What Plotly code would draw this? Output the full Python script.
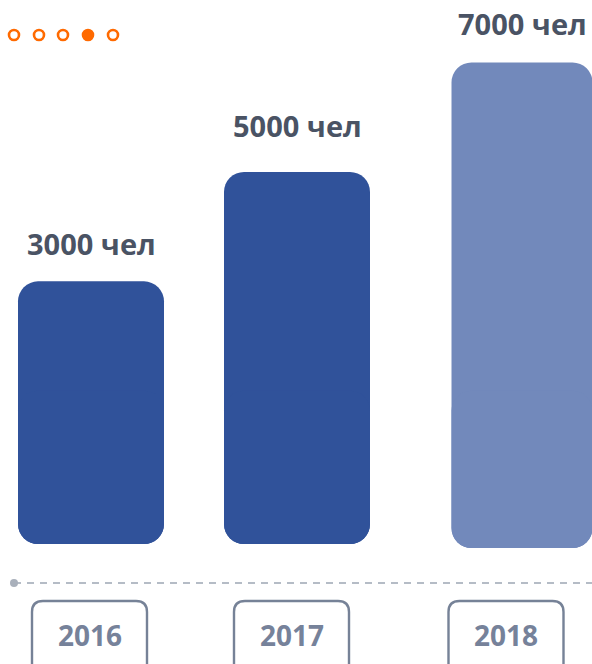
import plotly.graph_objects as go

# ---- data ----
years = ["2016", "2017", "2018"]
people = [3000, 5000, 7000]
unit = "чел"

# ---- styles / layout constants ----
W, H = 592, 664
bar_x = [91, 297, 522]          # pixel centres of bars
bar_w = [146, 146, 141]
bar_colors = ["#30529A", "#30529A", "#7289BB"]
bottom_ext = [1800, 1800, 1873]  # visual base extension below zero (style)
overlap = 1000                   # overlap of the two bar halves (style)
label_shift = [38, 46, 39]
box_x = [89.5, 291.5, 506]       # pixel centres of year boxes
box_w = 115
label_color = "#4A5364"
year_color = "#76829A"
orange = "#FF6A00"
FONT = "Open Sans"

fig = go.Figure()

# upper part of bar: from below zero up to value, rounded at the top
fig.add_trace(go.Bar(
    x=bar_x, y=[v + e for v, e in zip(people, bottom_ext)],
    base=[-e for e in bottom_ext], width=bar_w,
    marker=dict(color=bar_colors, cornerradius=20, line=dict(width=0)),
    hoverinfo="skip", showlegend=False,
))
# lower part of bar: from inside the bar down to the base, rounded at the bottom
fig.add_trace(go.Bar(
    x=bar_x, y=[-(overlap + e) for e in bottom_ext], base=overlap, width=bar_w,
    marker=dict(color=bar_colors, cornerradius=20, line=dict(width=0)),
    hoverinfo="skip", showlegend=False,
))

annotations = []
for xc, v, ys in zip(bar_x, people, label_shift):
    annotations.append(dict(
        x=xc, y=v, xref="x", yref="y", text=f"{v} {unit}", showarrow=False,
        yanchor="middle", xanchor="center", yshift=ys,
        font=dict(family=FONT, size=29, color=label_color, weight="bold"),
    ))

shapes = []
# rounded year boxes (open at the bottom)
for xc, yr in zip(box_x, years):
    x0, x1 = xc - box_w / 2, xc + box_w / 2
    top, r, bot = 601, 11, 690
    path = (f"M {x0},{bot} L {x0},{top + r} Q {x0},{top} {x0 + r},{top} "
            f"L {x1 - r},{top} Q {x1},{top} {x1},{top + r} L {x1},{bot}")
    shapes.append(dict(type="path", path=path, xref="x", yref="y2",
                       line=dict(color="#768297", width=2.4), fillcolor="rgba(0,0,0,0)"))
    annotations.append(dict(
        x=xc, y=635, xref="x", yref="y2", text=yr, showarrow=False,
        xanchor="center", yanchor="middle",
        font=dict(family=FONT, size=28, color=year_color, weight="bold"),
    ))

# dashed timeline
shapes.append(dict(type="line", x0=14, x1=W, y0=583, y1=583, xref="x", yref="y2",
                   line=dict(color="#B5BCC6", width=2, dash="7px,6px")))
shapes.append(dict(type="circle", x0=10, x1=18, y0=579, y1=587, xref="x", yref="y2",
                   line=dict(width=0), fillcolor="#A9B0BB"))

# pager dots
dot_x = [14, 39, 63, 88, 113]
for i, dx in enumerate(dot_x):
    shapes.append(dict(type="circle", x0=dx - 5, x1=dx + 5, y0=30, y1=40,
                       xref="x", yref="y2",
                       line=dict(color=orange, width=2.6),
                       fillcolor=orange if i == 3 else "white"))

fig.update_layout(
    width=W, height=H,
    margin=dict(l=0, r=0, t=0, b=0),
    paper_bgcolor="white", plot_bgcolor="white",
    barmode="overlay",
    xaxis=dict(range=[0, W], visible=False, fixedrange=True),
    yaxis=dict(range=[-3993, 8142], visible=False, fixedrange=True),
    yaxis2=dict(range=[H, 0], overlaying="y", visible=False, fixedrange=True),
    shapes=shapes,
    annotations=annotations,
    showlegend=False,
)

fig.write_html("out.html", config={"displayModeBar": False},
               post_script="document.body.style.margin='0';document.body.style.overflow='hidden';")
